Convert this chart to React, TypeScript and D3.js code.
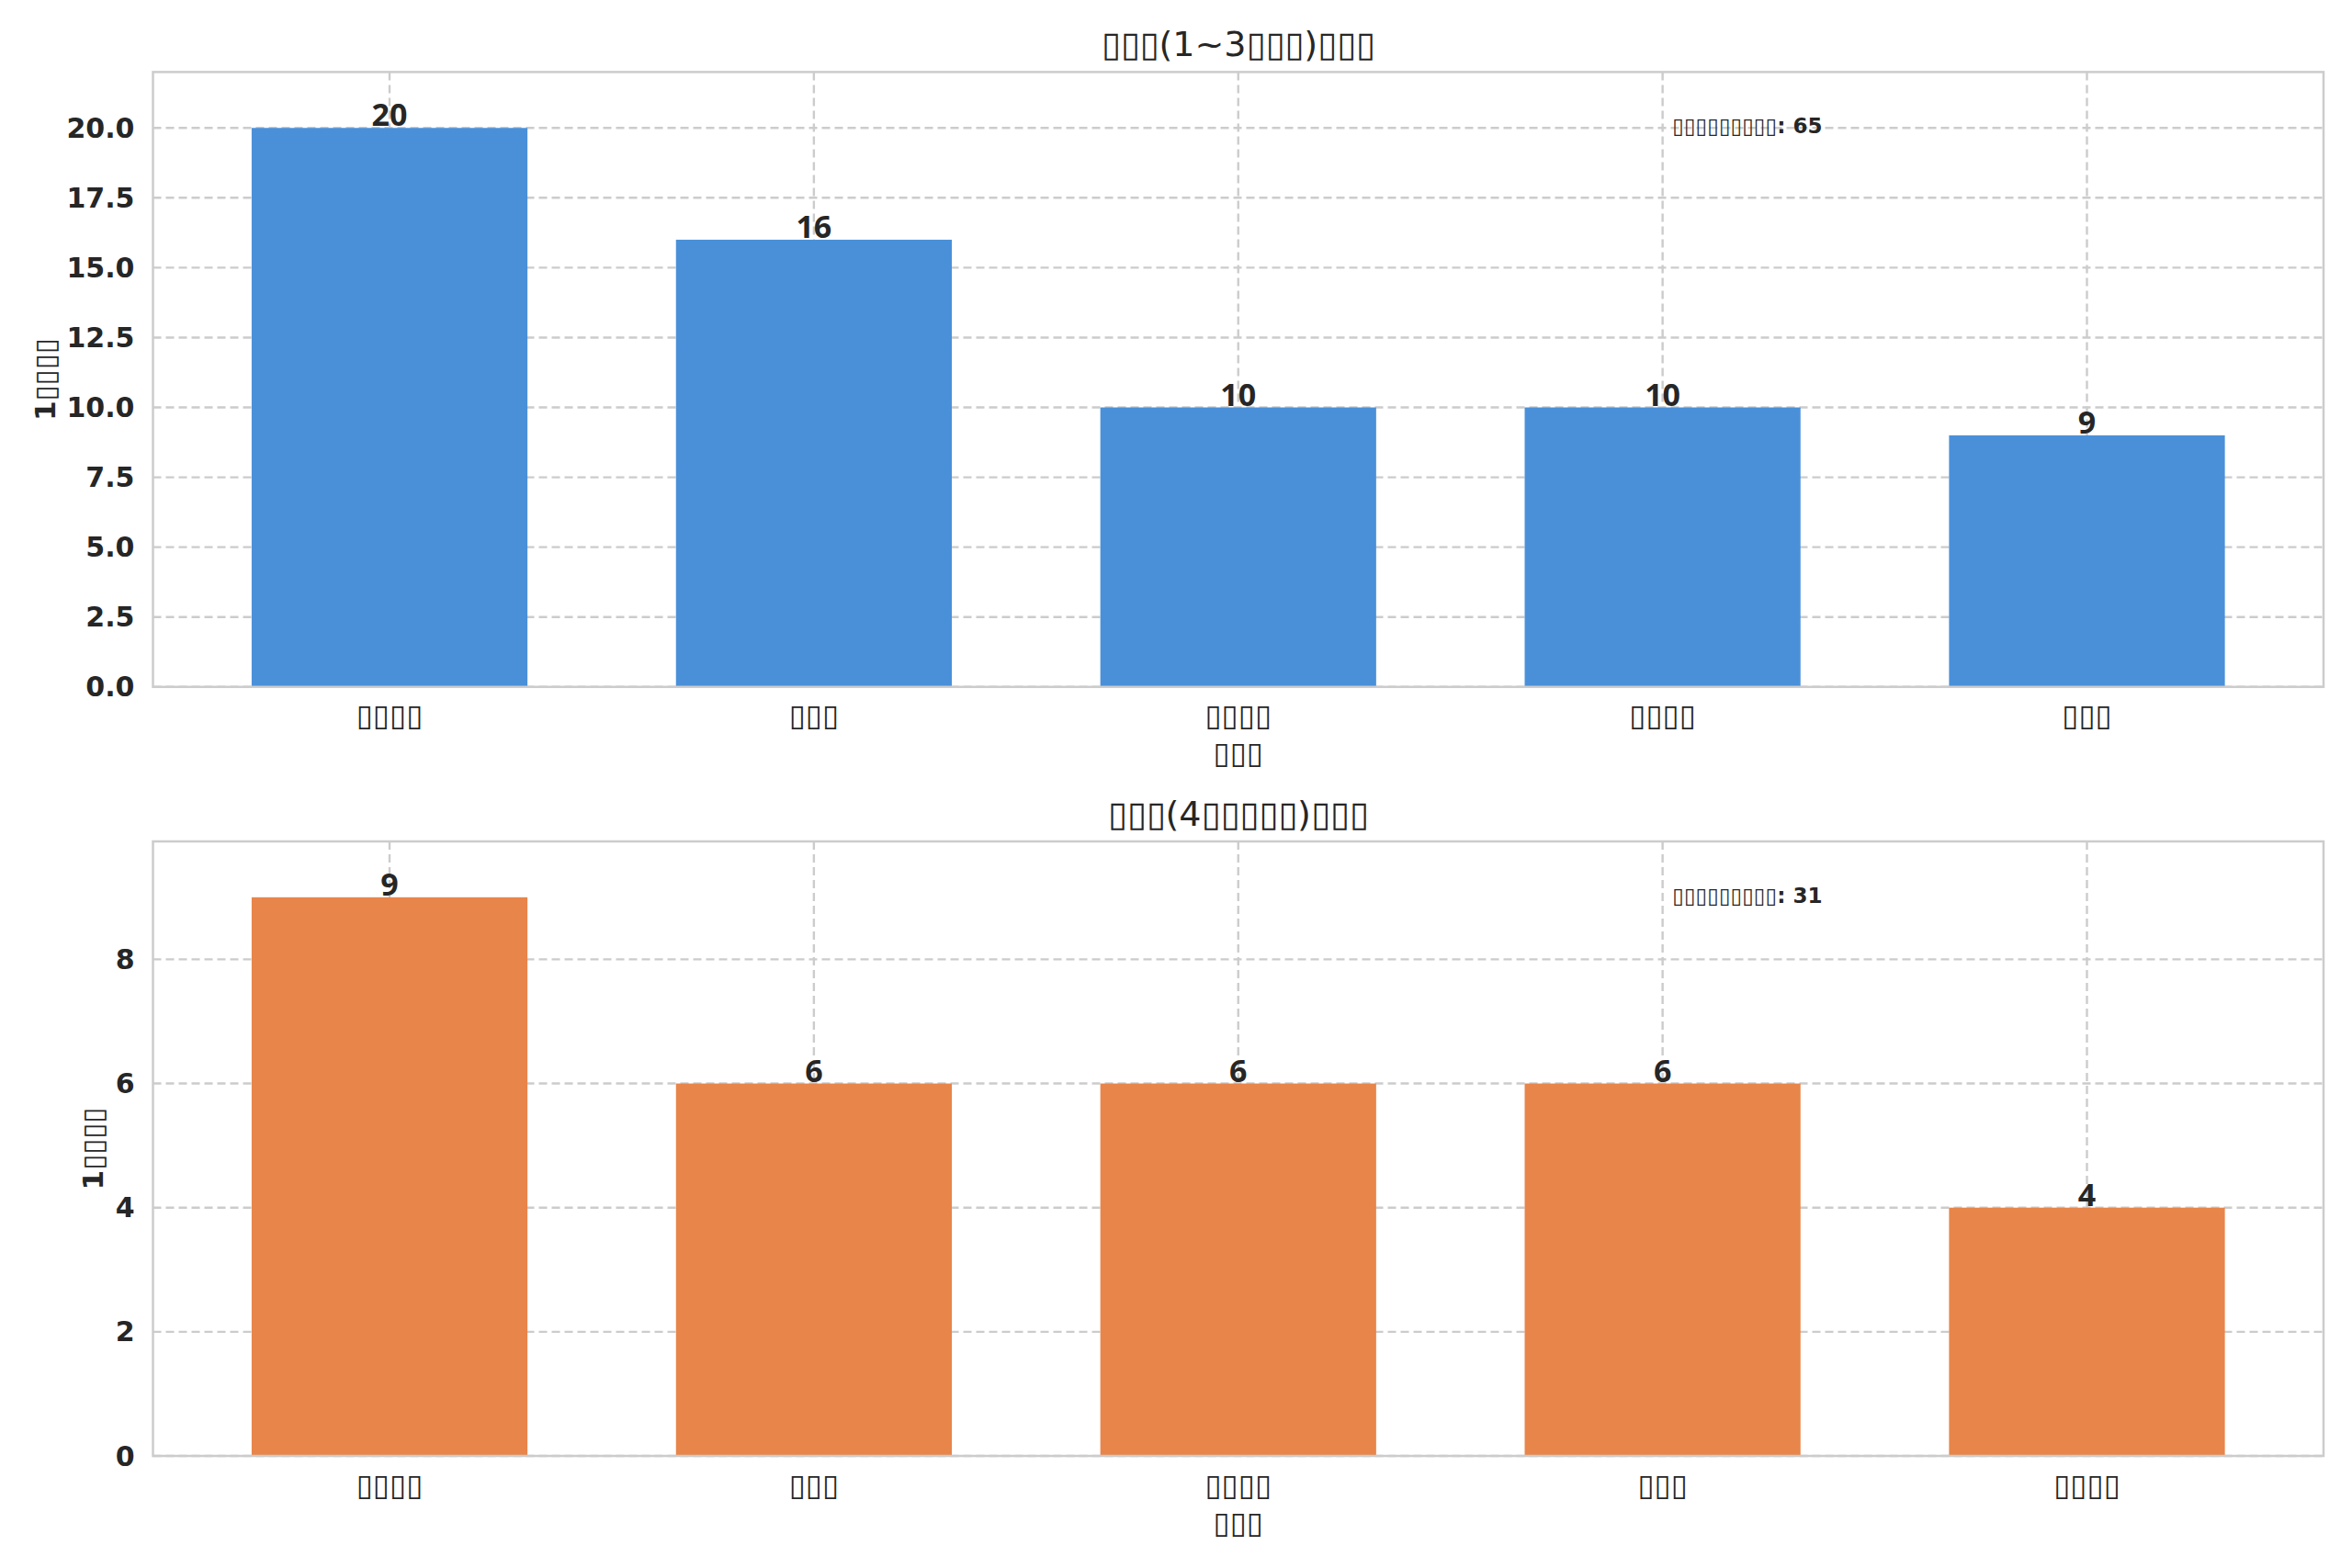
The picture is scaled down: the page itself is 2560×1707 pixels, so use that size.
import React from 'react';
import * as d3 from 'd3';

// tofu boxes stand in for glyphs the source font could not render
const B = '\u25AF';
const box = (n: number) => B.repeat(n);

const topTitle = `${box(3)}(1~3${box(3)})${box(3)}`;
const bottomTitle = `${box(3)}(4${box(5)})${box(3)}`;
const yLabel = `1${box(4)}`;
const xLabel = box(3);
const notePrefix = `${box(9)}: `;

const topCategories = [box(4), box(3), box(4), box(4), box(3)];
const topValues = [20, 16, 10, 10, 9];
const topTicks = [0, 2.5, 5, 7.5, 10, 12.5, 15, 17.5, 20];
const topTotal = 65;

const bottomCategories = [box(4), box(3), box(4), box(3), box(4)];
const bottomValues = [9, 6, 6, 6, 4];
const bottomTicks = [0, 2, 4, 6, 8];
const bottomTotal = 31;

const W = 2560;
const H = 1707;
const LEFT = 166.5;
const RIGHT = 2529;
const GRID = '#cccccc';
const TEXT = '#262626';
const FONT = '"DejaVu Sans", sans-serif';

interface PanelProps {
  top: number;
  bottom: number;
  title: string;
  categories: string[];
  values: number[];
  ticks: number[];
  tickFormat: (v: number) => string;
  total: number;
  color: string;
  yLabelX: number;
}

const Panel: React.FC<PanelProps> = ({ top, bottom, title, categories, values, ticks, tickFormat, total, color, yLabelX }) => {
  const barWidth = 0.65;
  const n = categories.length;
  const span = (n - 1) + barWidth;
  const pad = span * 0.05;
  const x = d3.scaleLinear()
    .domain([-barWidth / 2 - pad, n - 1 + barWidth / 2 + pad])
    .range([LEFT, RIGHT]);
  const yMax = (d3.max(values) ?? 1) * 1.1;
  const y = d3.scaleLinear().domain([0, yMax]).range([bottom, top]);

  return (
    <g>
      {/* grid */}
      {ticks.map((t) => (
        <line key={`gy${t}`} x1={LEFT} x2={RIGHT} y1={y(t)} y2={y(t)}
          stroke={GRID} strokeWidth={2.4} strokeDasharray="9,5" />
      ))}
      {categories.map((_, i) => (
        <line key={`gx${i}`} x1={x(i)} x2={x(i)} y1={top} y2={bottom}
          stroke={GRID} strokeWidth={2.4} strokeDasharray="9,5" />
      ))}

      {/* bars */}
      {values.map((v, i) => (
        <rect key={`b${i}`} x={x(i - barWidth / 2)} width={x(barWidth) - x(0)}
          y={y(v)} height={y(0) - y(v)} fill={color} />
      ))}

      {/* value labels */}
      {values.map((v, i) => (
        <text key={`v${i}`} x={x(i)} y={y(v) - 2} textAnchor="middle"
          fontFamily='"Noto Sans", sans-serif' fontWeight="bold" fontSize={34} fill={TEXT}>
          {v}
        </text>
      ))}

      {/* spines */}
      <rect x={LEFT} y={top} width={RIGHT - LEFT} height={bottom - top}
        fill="none" stroke={GRID} strokeWidth={2.5} />

      {/* y ticks */}
      {ticks.map((t) => (
        <text key={`ty${t}`} x={LEFT - 20} y={y(t)} textAnchor="end" dominantBaseline="central"
          fontFamily={FONT} fontWeight="bold" fontSize={30} fill={TEXT}>
          {tickFormat(t)}
        </text>
      ))}

      {/* x ticks */}
      {categories.map((c, i) => (
        <text key={`tx${i}`} x={x(i)} y={bottom + 31} textAnchor="middle" dominantBaseline="central"
          fontFamily={FONT} fontSize={33} fill={TEXT}>
          {c}
        </text>
      ))}

      <text x={(LEFT + RIGHT) / 2} y={bottom + 72} textAnchor="middle" dominantBaseline="central"
        fontFamily={FONT} fontSize={33} fill={TEXT}>
        {xLabel}
      </text>

      <text transform={`translate(${yLabelX},${(top + bottom) / 2}) rotate(-90)`} textAnchor="middle"
        dominantBaseline="central" fontFamily={FONT} fontWeight="bold" fontSize={31} fill={TEXT}>
        {yLabel}
      </text>

      <text x={(LEFT + RIGHT) / 2} y={top - 30} textAnchor="middle" dominantBaseline="central"
        fontFamily={FONT} fontSize={38} fill={TEXT}>
        {title}
      </text>

      <text x={LEFT + 0.7 * (RIGHT - LEFT)} y={bottom - 0.912 * (bottom - top)} dominantBaseline="central"
        fontFamily={FONT} fontWeight="bold" fontSize={23} fill={TEXT}>
        {notePrefix}{total}
      </text>
    </g>
  );
};

const App: React.FC = () => (
  <svg width={W} height={H} style={{ position: 'absolute', left: 0, top: 0, background: '#fff' }}>
    <rect width={W} height={H} fill="#fff" />
    <Panel top={78.4} bottom={747.8} title={topTitle} categories={topCategories} values={topValues}
      ticks={topTicks} tickFormat={d3.format('.1f')} total={topTotal} color="#4a90d9" yLabelX={49} />
    <Panel top={916} bottom={1585} title={bottomTitle} categories={bottomCategories} values={bottomValues}
      ticks={bottomTicks} tickFormat={d3.format('d')} total={bottomTotal} color="#e8854a" yLabelX={101} />
  </svg>
);

export default App;
